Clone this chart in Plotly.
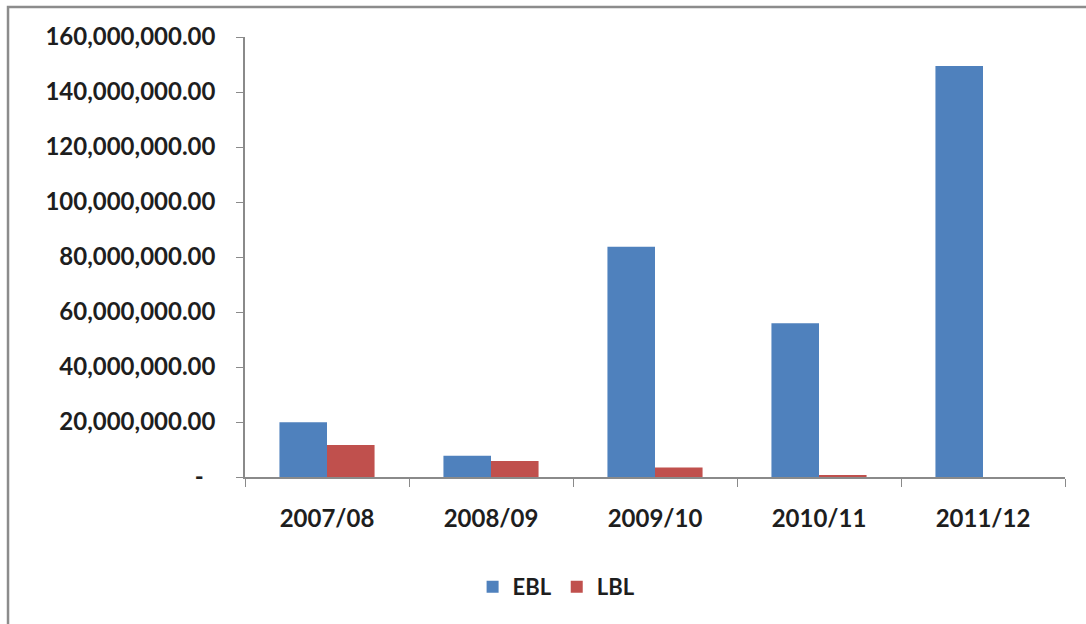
import plotly.graph_objects as go

# Yearly values for the two banks
years = ["2007/08", "2008/09", "2009/10", "2010/11", "2011/12"]
ebl = [19_900_000, 7_750_000, 83_700_000, 55_900_000, 149_500_000]
lbl = [11_600_000, 5_800_000, 3_500_000, 600_000, 0]

# Y-axis ticks in accounting style
y_tickvals = [0, 20e6, 40e6, 60e6, 80e6, 100e6, 120e6, 140e6, 160e6]
y_ticktext = ["-\u00a0\u00a0", "20,000,000.00", "40,000,000.00", "60,000,000.00",
              "80,000,000.00", "100,000,000.00", "120,000,000.00",
              "140,000,000.00", "160,000,000.00"]

FONT = "Lato"
TEXT = "#1e1e1e"
AXIS = "#8a8a8a"

fig = go.Figure()
fig.add_trace(go.Bar(name="EBL", x=years, y=ebl, marker=dict(color="#4F81BD", line_width=0)))
fig.add_trace(go.Bar(name="LBL", x=years, y=lbl, marker=dict(color="#C0504D", line_width=0)))

fig.update_layout(
    width=1086, height=624,
    margin=dict(l=245, r=21, t=37, b=147),
    paper_bgcolor="white", plot_bgcolor="white",
    barmode="group", bargap=0.42, bargroupgap=0,
    font=dict(family=FONT, size=24, color=TEXT, weight="bold"),
    showlegend=True,
    legend=dict(orientation="h", x=0.38, xanchor="center", y=-0.25, yanchor="middle",
                font=dict(family=FONT, size=22, color=TEXT, weight="bold"),
                itemwidth=30, tracegroupgap=0, bgcolor="rgba(0,0,0,0)"),
    xaxis=dict(type="category", showline=True, linecolor=AXIS, linewidth=1.5,
               ticks="outside", tickson="boundaries", ticklen=8, tickcolor=AXIS,
               showgrid=False, zeroline=False, ticklabelstandoff=19,
               tickfont=dict(family=FONT, size=24, color=TEXT, weight="bold")),
    yaxis=dict(range=[0, 160e6], tickvals=y_tickvals, ticktext=y_ticktext,
               showline=True, linecolor=AXIS, linewidth=1.5,
               ticks="outside", ticklen=7, tickcolor=AXIS,
               showgrid=False, zeroline=False, ticklabelstandoff=16,
               tickfont=dict(family=FONT, size=24, color=TEXT, weight="bold")),
    shapes=[dict(type="rect", xref="paper", yref="paper",
                 x0=-0.289, x1=1.04, y0=-0.36, y1=1.068,
                 line=dict(color="#8c8c8c", width=2.5), fillcolor="rgba(0,0,0,0)",
                 layer="below")],
)

fig.write_html("out.html")
